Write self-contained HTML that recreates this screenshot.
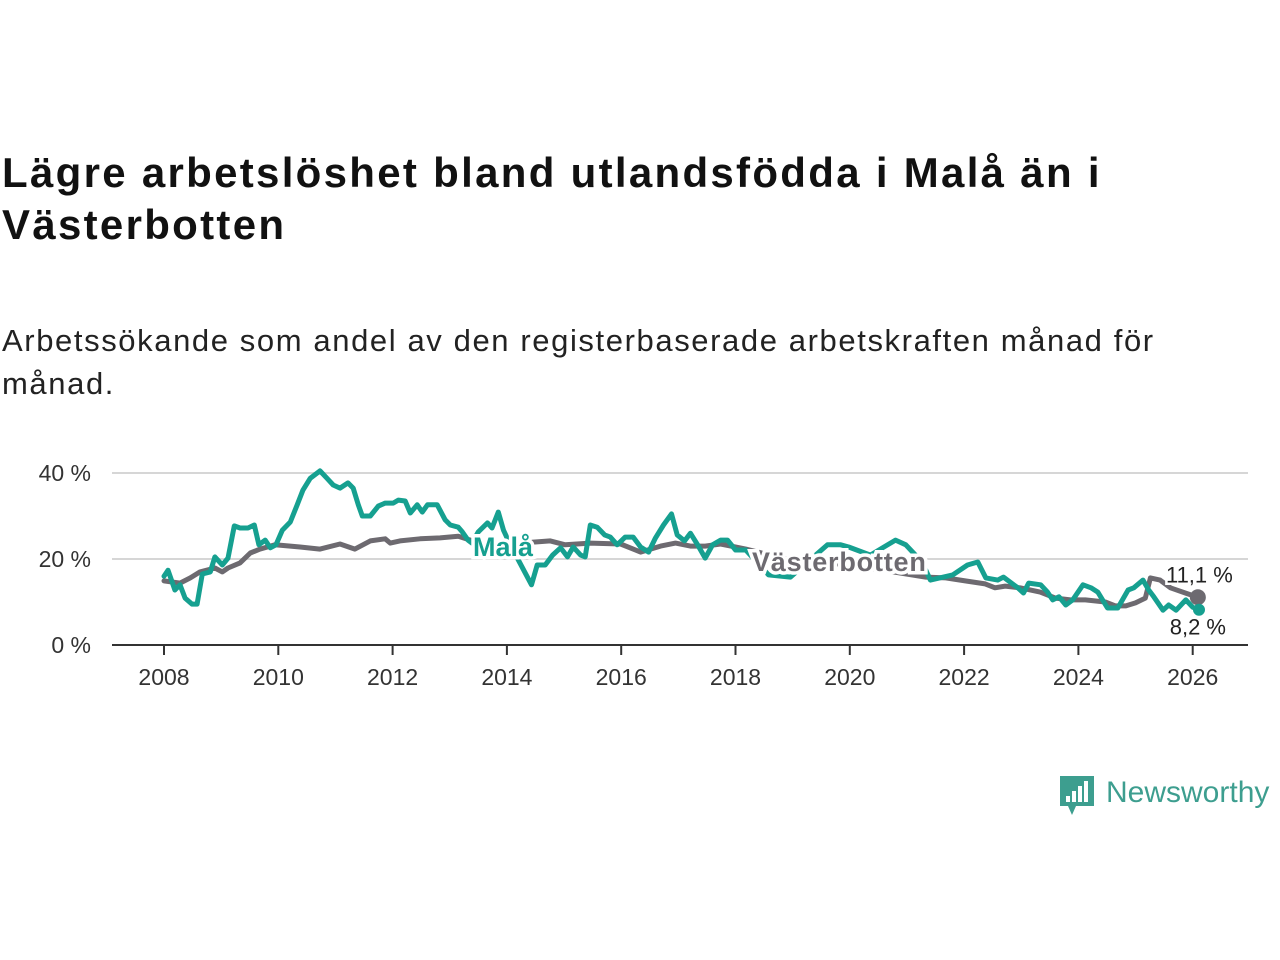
<!DOCTYPE html>
<html><head><meta charset="utf-8"><style>
body{margin:0;width:1280px;height:960px;background:#fff;font-family:"Liberation Sans",sans-serif;overflow:hidden;position:relative}
.t{position:absolute;left:2px;top:147px;font-size:42px;font-weight:bold;color:#111;line-height:52px;width:1270px;letter-spacing:2.3px;white-space:nowrap}
.s{position:absolute;left:2px;top:319px;font-size:31px;color:#222;line-height:43px;width:1270px;letter-spacing:1.6px;white-space:nowrap}
svg{position:absolute;left:0;top:0}
</style></head><body>
<div class="t">Lägre arbetslöshet bland utlandsfödda i Malå än i<br>Västerbotten</div>
<div class="s">Arbetssökande som andel av den registerbaserade arbetskraften månad för<br>månad.</div>
<svg id="c" width="1280" height="960"></svg>
<script>
const yTicks=[0,20,40];
const yTickLabels=["0 %","20 %","40 %"];
const xTicks=[2008,2010,2012,2014,2016,2018,2020,2022,2024,2026];
const malaT=[2008.00,2008.07,2008.19,2008.28,2008.37,2008.49,2008.58,2008.67,2008.81,2008.89,2009.02,2009.12,2009.23,2009.33,2009.47,2009.58,2009.66,2009.77,2009.86,2009.96,2010.07,2010.21,2010.33,2010.43,2010.56,2010.73,2010.85,2010.96,2011.08,2011.22,2011.31,2011.40,2011.47,2011.61,2011.75,2011.87,2012.01,2012.10,2012.22,2012.31,2012.43,2012.52,2012.61,2012.78,2012.92,2013.01,2013.15,2013.22,2013.32,2013.39,2013.50,2013.66,2013.74,2013.85,2013.94,2014.06,2014.43,2014.53,2014.67,2014.80,2014.94,2015.06,2015.16,2015.29,2015.37,2015.46,2015.58,2015.71,2015.81,2015.93,2016.07,2016.21,2016.34,2016.48,2016.60,2016.74,2016.88,2016.98,2017.11,2017.21,2017.35,2017.47,2017.60,2017.74,2017.86,2018.00,2018.18,2018.58,2018.96,2019.61,2019.84,2019.98,2020.36,2020.80,2020.98,2021.15,2021.33,2021.41,2021.80,2022.06,2022.24,2022.38,2022.59,2022.69,2022.94,2023.04,2023.13,2023.34,2023.46,2023.55,2023.66,2023.78,2023.90,2024.08,2024.22,2024.34,2024.51,2024.69,2024.87,2024.97,2025.13,2025.23,2025.32,2025.48,2025.58,2025.71,2025.88,2026.00,2026.11];
const malaV=[16.0,17.4,12.8,14.0,10.9,9.5,9.5,16.5,17.0,20.5,18.6,20.2,27.7,27.2,27.2,27.9,23.3,24.4,22.6,23.3,26.7,28.6,32.6,36.0,38.8,40.5,38.8,37.2,36.5,37.7,36.5,32.6,30.0,30.0,32.3,33.0,33.0,33.7,33.5,30.7,32.6,30.9,32.6,32.6,29.1,27.9,27.4,26.3,24.4,23.7,26.3,28.4,27.2,30.9,26.7,23.3,14.0,18.6,18.6,20.9,22.6,20.5,22.8,20.9,20.5,27.9,27.4,25.6,25.1,23.3,25.1,25.1,22.8,21.6,24.9,27.9,30.5,25.6,24.2,26.0,23.0,20.2,23.3,24.4,24.4,22.1,22.1,16.3,15.8,23.3,23.3,22.8,20.9,24.4,23.3,20.9,17.4,15.1,16.3,18.6,19.3,15.6,15.1,15.8,13.3,12.1,14.4,14.0,12.3,10.5,11.2,9.3,10.5,14.0,13.3,12.3,8.6,8.6,12.8,13.3,15.1,12.8,11.2,8.1,9.3,8.1,10.5,8.8,8.2];
const vbT=[2008.00,2008.28,2008.46,2008.63,2008.89,2009.02,2009.12,2009.33,2009.51,2009.68,2009.94,2010.21,2010.38,2010.73,2011.08,2011.34,2011.61,2011.87,2011.96,2012.13,2012.48,2012.83,2013.15,2013.36,2013.62,2014.23,2014.76,2015.02,2015.46,2015.99,2016.34,2016.69,2016.95,2017.21,2017.47,2017.74,2018.18,2018.96,2020.01,2021.33,2021.68,2022.02,2022.37,2022.54,2022.72,2022.98,2023.33,2023.60,2023.86,2024.12,2024.47,2024.65,2024.83,2025.00,2025.17,2025.26,2025.43,2025.61,2025.87,2026.09];
const vbV=[14.9,14.4,15.6,17.0,17.9,17.0,17.9,19.1,21.4,22.3,23.3,23.0,22.8,22.3,23.5,22.3,24.2,24.7,23.7,24.2,24.7,24.9,25.3,24.4,23.7,23.7,24.2,23.3,23.7,23.5,21.6,23.0,23.7,23.0,23.0,23.5,22.3,19.8,18.6,15.8,15.6,14.9,14.2,13.3,13.7,13.3,12.3,10.9,10.5,10.5,10.0,9.1,9.1,9.8,10.9,15.6,15.1,13.3,12.1,11.1];
const endLabels=["11,1 %","8,2 %"];
const NS="http://www.w3.org/2000/svg",svg=document.getElementById('c');
const X=t=>164+(t-2008)*57.15, Y=v=>645-v*4.3;
function mk(tag,at,txt){const e=document.createElementNS(NS,tag);for(const k in at)e.setAttribute(k,at[k]);if(txt!=null)e.textContent=txt;svg.appendChild(e);return e;}
yTicks.forEach((v,i)=>{
 if(v>0){const g=mk('line',{x1:112,x2:1248,y1:Y(v),y2:Y(v),stroke:'#d6d6d6','stroke-width':2});
 
 }
 const l=mk('text',{x:91,y:Y(v)+8,'text-anchor':'end','font-size':23,fill:'#333'},yTickLabels[i]);
 
 
});
const ax=mk('line',{x1:112,x2:1248,y1:645,y2:645,stroke:'#333','stroke-width':2});


xTicks.forEach(t=>{
 const k=mk('line',{x1:X(t),x2:X(t),y1:645,y2:655,stroke:'#333','stroke-width':2});
 
 
 const l=mk('text',{x:X(t),y:685,'text-anchor':'middle','font-size':23,fill:'#333'},String(t));
 
 
});
function line(T,V,col,name){const d=T.map((t,i)=>(i?'L':'M')+X(t).toFixed(1)+','+Y(V[i]).toFixed(1)).join('');
 const p=mk('path',{d:d,fill:'none',stroke:col,'stroke-width':5,'stroke-linejoin':'round','stroke-linecap':'round'});
 
 }
line(vbT,vbV,'#6d6a70','vasterbotten-line');
line(malaT,malaV,'#16a090','mala-line');
const ml=mk('text',{x:473,y:556,'font-size':27,'font-weight':'bold',fill:'#16a090',stroke:'#fff','stroke-width':7,'paint-order':'stroke'},'Malå');


const vl=mk('text',{x:752,y:571,'font-size':27,'font-weight':'bold','letter-spacing':'0.8',fill:'#6d6a70',stroke:'#fff','stroke-width':7,'paint-order':'stroke'},'Västerbotten');


const lt=vbT.length-1,mt=malaT.length-1;
const dot=mk('circle',{cx:X(vbT[lt]),cy:Y(vbV[lt]),r:8,fill:'#6d6a70'});


const dot2=mk('circle',{cx:X(malaT[mt]),cy:Y(malaV[mt]),r:6,fill:'#16a090'});


const e1=mk('text',{x:X(vbT[lt])+35,y:Y(vbV[lt])-15,'text-anchor':'end','font-size':22,fill:'#222',stroke:'#fff','stroke-width':5,'paint-order':'stroke'},endLabels[0]);


const e2=mk('text',{x:X(malaT[mt])+27,y:Y(malaV[mt])+25,'text-anchor':'end','font-size':22,fill:'#222',stroke:'#fff','stroke-width':5,'paint-order':'stroke'},endLabels[1]);


</script>
<svg width="1280" height="960" style="pointer-events:none">
<path d="M1060 776h34v30h-18l-4 9l-4-9h-8z" fill="#3d9e8f"/>
<rect x="1066" y="796" width="4" height="6" fill="#fff"/><rect x="1072" y="791" width="4" height="11" fill="#fff"/><rect x="1078" y="786" width="4" height="16" fill="#fff"/><rect x="1084" y="781" width="4" height="21" fill="#fff"/>
<text x="1106" y="802" font-size="30" fill="#3d9e8f" font-family="Liberation Sans,sans-serif">Newsworthy</text>
</svg>
</body></html>
